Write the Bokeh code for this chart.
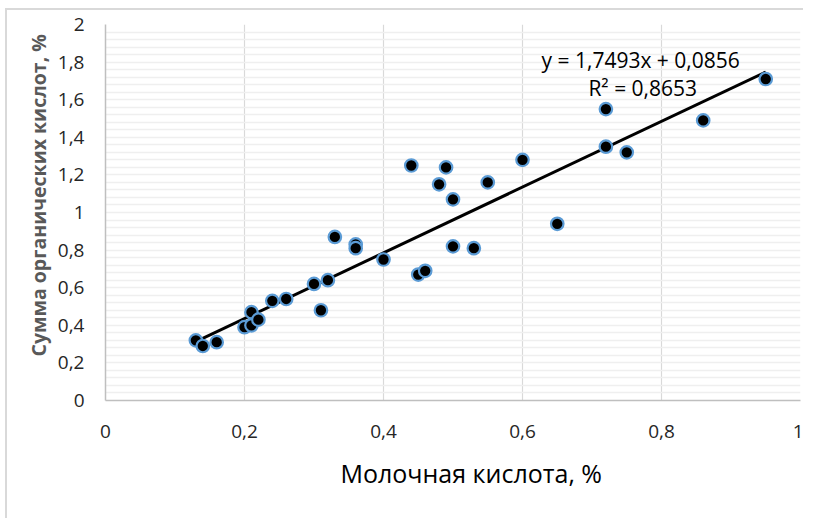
import numpy as np
from bokeh.plotting import figure
from bokeh.models import (Range1d, SingleIntervalTicker, CustomJSTickFormatter, Label, Title)
from bokeh.embed import file_html
from bokeh.resources import INLINE

# ---- data ----
lactic = [0.13, 0.14, 0.16, 0.20, 0.21, 0.21, 0.22, 0.24, 0.26, 0.30, 0.31, 0.32,
          0.33, 0.36, 0.36, 0.40, 0.44, 0.45, 0.46, 0.48, 0.49, 0.50, 0.50, 0.53,
          0.55, 0.60, 0.65, 0.72, 0.72, 0.75, 0.86, 0.95]
total_acids = [0.32, 0.29, 0.31, 0.39, 0.47, 0.40, 0.43, 0.53, 0.54, 0.62, 0.48, 0.64,
               0.87, 0.83, 0.81, 0.75, 1.25, 0.67, 0.69, 1.15, 1.24, 1.07, 0.82, 0.81,
               1.16, 1.28, 0.94, 1.55, 1.35, 1.32, 1.49, 1.71]
slope = 1.7493
intercept = 0.0856
r_squared = 0.8653

x_title = "Молочная кислота, %"
y_title = "Сумма органических кислот, %"

FONT = "Open Sans"

p = figure(width=798, height=510, output_backend="svg", toolbar_location=None,
           x_range=Range1d(0, 1), y_range=Range1d(0, 2),
           min_border_left=98, min_border_right=5, min_border_top=14, min_border_bottom=120,
           background_fill_color="white", border_fill_color="white")
p.outline_line_color = None
p.styles = {"margin-left": "5px", "margin-top": "8px",
            "border-left": "2px solid #d9d9d9", "border-top": "2px solid #d9d9d9"}

fmt = CustomJSTickFormatter(code="""
var s = tick.toFixed(1);
if (s.endsWith('.0')) { s = s.slice(0, -2); }
return s.replace('.', ',');
""")

p.xaxis.ticker = SingleIntervalTicker(interval=0.2, num_minor_ticks=0)
p.yaxis.ticker = SingleIntervalTicker(interval=0.2, num_minor_ticks=5)
for ax in (p.xaxis[0], p.yaxis[0]):
    ax.formatter = fmt
    ax.major_tick_in = 0
    ax.major_tick_out = 0
    ax.minor_tick_in = 0
    ax.minor_tick_out = 0
    ax.axis_line_color = "#bfbfbf"
    ax.axis_line_width = 1.5
    ax.major_label_text_font = FONT
    ax.major_label_text_font_size = "19px"
    ax.major_label_text_color = "#262626"
p.xaxis.major_label_standoff = 24
p.yaxis.major_label_standoff = 21

p.xgrid.grid_line_color = "#d9d9d9"
p.xgrid.grid_line_width = 1.2
p.ygrid.grid_line_color = None
p.ygrid.minor_grid_line_color = "#efefef"
p.ygrid.minor_grid_line_width = 1.6

# trendline
xs = np.array([min(lactic), max(lactic)])
p.line(xs, slope * xs + intercept, line_color="black", line_width=3)

# points
p.scatter(lactic, total_acids, size=12.5, fill_color="black",
          line_color="#5b9bd5", line_width=2.2)

def fmt_num(v):
    return f"{v:.4f}".replace(".", ",")

p.add_layout(Label(x=0.77, y=1.809, text=f"y = {fmt_num(slope)}x + {fmt_num(intercept)}",
                   text_font=FONT, text_font_size="21px", text_color="#000000",
                   text_align="center", text_baseline="middle"))
p.add_layout(Label(x=0.773, y=1.66, text=f"R² = {fmt_num(r_squared)}",
                   text_font=FONT, text_font_size="21px", text_color="#000000",
                   text_align="center", text_baseline="middle"))

# axis titles
p.add_layout(Title(text=x_title, align="left", offset=235, text_font=FONT,
                   text_font_size="25px", text_font_style="normal",
                   text_color="#000000", standoff=26), "below")
p.add_layout(Title(text=y_title, align="left", offset=44, text_font=FONT,
                   text_font_size="19.5px", text_font_style="bold",
                   text_color="#595959", standoff=5), "left")

open("out.html", "w").write(file_html(p, INLINE))
